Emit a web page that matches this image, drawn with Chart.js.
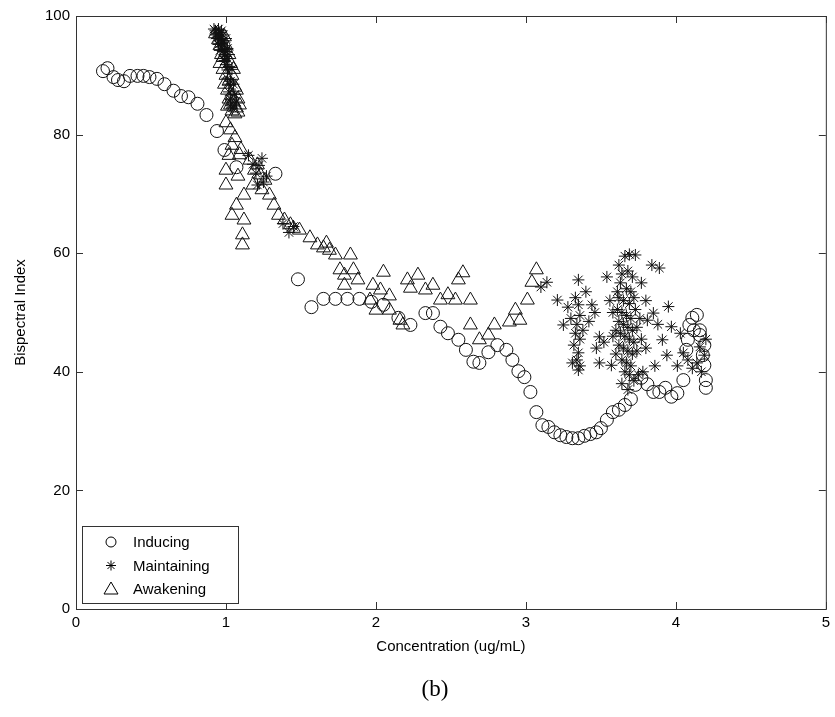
<!DOCTYPE html>
<html>
<head>
<meta charset="utf-8">
<script src="https://cdn.jsdelivr.net/npm/chart.js@4/dist/chart.umd.min.js"></script>
<style>
    body { margin: 0; background: #fff; }
    #wrap { position: relative; width: 835px; height: 717px; }
    #caption { position: absolute; left: 0; width: 870px; top: 676px; text-align: center;
               font-family: "Liberation Serif", "DejaVu Serif", serif; font-size: 23px; color: #000; }
</style>
</head>
<body>
<div id="wrap">
    <canvas id="bisChart" width="835" height="717"></canvas>
    <div id="caption">(b)</div>
</div>
<script>
// Concentration (ug/mL) vs bispectral index, one list of [x, y] per phase
const inducing = [
    [0.18,90.7],[0.21,91.2],[0.25,89.7],[0.28,89.2],[0.32,89.0],[0.36,89.9],[0.41,89.9],[0.45,89.9],
    [0.49,89.7],[0.54,89.4],[0.59,88.5],[0.65,87.4],[0.70,86.5],[0.75,86.3],[0.81,85.2],[0.87,83.3],
    [0.94,80.6],[0.99,77.4],[1.07,74.5],[1.33,73.4],[1.48,55.6],[1.57,50.9],[1.65,52.3],[1.73,52.3],
    [1.81,52.3],[1.89,52.3],[1.97,51.8],[2.05,51.3],[2.15,49.1],[2.23,47.9],[2.33,49.9],[2.38,49.9],
    [2.43,47.6],[2.48,46.5],[2.55,45.4],[2.60,43.7],[2.65,41.7],[2.69,41.5],[2.75,43.3],[2.81,44.5],
    [2.87,43.7],[2.91,42.0],[2.95,40.1],[2.99,39.1],[3.03,36.6],[3.07,33.2],[3.11,31.0],[3.15,30.7],
    [3.19,29.8],[3.23,29.3],[3.27,29.0],[3.31,28.8],[3.35,28.8],[3.39,29.2],[3.43,29.5],[3.47,29.8],
    [3.50,30.5],[3.54,31.9],[3.58,33.2],[3.62,33.6],[3.66,34.4],[3.70,35.4],[3.73,37.8],[3.77,39.0],
    [3.81,37.9],[3.85,36.6],[3.89,36.6],[3.93,37.3],[3.97,35.8],[4.01,36.4],[4.05,38.6],[4.07,43.7],
    [4.09,47.9],[4.11,49.1],[4.14,49.6],[4.16,46.2],[4.18,42.8],[4.19,41.1],[4.20,38.6],[4.20,37.3],
    [4.19,44.5],[4.16,47.0],[4.12,47.0],[4.08,45.4]
];

const maintaining = [
    // start of maintenance, high index
    [0.93,97.5],[0.94,97.0],[0.95,96.5],[0.95,97.8],[0.96,96.0],[0.97,95.5],[0.96,97.2],[0.98,96.8],
    [0.97,94.8],[0.98,94.0],[0.99,93.5],[0.98,95.8],[1.00,96.2],[0.99,92.5],[1.00,91.8],[1.01,90.9],
    [1.01,89.5],[1.02,88.5],[1.02,87.2],[1.03,86.0],[1.03,85.0],[1.04,84.5],[1.00,93.2],[1.01,94.5],
    [0.97,97.5],[0.94,96.2],[1.02,91.5],[1.03,89.0],[0.92,97.8],[0.93,96.8],[0.95,95.2],[0.96,94.2],
    [0.99,95.0],[1.00,94.0],[1.01,92.8],[1.02,93.5],[1.04,91.0],[1.05,88.5],[1.06,86.8],[1.07,85.5],
    [1.15,76.5],[1.18,75.0],[1.20,73.5],[1.22,74.8],[1.25,72.0],[1.24,76.0],[1.27,73.0],[1.21,71.5],
    [1.38,65.0],[1.42,63.5],[1.45,64.5],
    // steady state
    [3.14,55.1],[3.35,55.5],[3.54,56.0],[3.21,52.1],[3.28,50.9],[3.35,51.3],[3.44,51.3],[3.25,47.9],
    [3.49,45.9],[3.49,41.5],[3.57,41.1],[3.35,40.3],[3.35,43.2],[3.47,44.0],[3.33,46.5],[3.34,48.0],
    [3.36,49.5],[3.32,44.5],[3.34,42.0],[3.36,41.0],[3.33,52.5],[3.30,49.0],[3.38,47.0],[3.40,53.5],
    [3.31,41.5],[3.36,45.5],[3.42,48.5],[3.46,50.0],[3.10,54.3],[3.52,45.0],
    [3.62,58.0],[3.66,59.5],[3.69,59.8],[3.73,59.7],[3.64,56.5],[3.68,57.0],[3.71,56.0],[3.63,55.0],
    [3.67,54.0],[3.70,53.5],[3.62,52.5],[3.65,52.0],[3.69,51.5],[3.72,52.5],[3.61,50.5],[3.64,50.0],
    [3.67,49.5],[3.70,49.0],[3.73,50.5],[3.62,48.5],[3.65,48.0],[3.68,47.5],[3.71,47.0],[3.63,46.5],
    [3.66,46.0],[3.69,45.5],[3.72,45.0],[3.62,44.5],[3.65,44.0],[3.68,43.5],[3.71,43.0],[3.64,42.0],
    [3.67,41.5],[3.70,41.0],[3.66,40.0],[3.69,39.5],[3.72,38.5],[3.75,39.5],[3.78,40.0],[3.64,38.0],
    [3.68,37.0],[3.60,47.0],[3.74,47.5],[3.76,49.0],[3.74,43.5],[3.61,53.5],[3.58,50.0],[3.77,55.0],
    [3.80,52.0],[3.84,58.0],[3.89,57.5],[3.81,48.7],[3.85,49.9],[3.95,51.0],[3.97,47.6],[3.91,45.4],
    [3.94,42.8],[4.01,41.0],[4.05,43.2],[4.11,40.6],[4.16,44.2],[4.19,42.8],[3.56,52.0],[3.58,46.0],
    [3.60,43.0],[3.77,45.5],[3.88,48.0],[4.03,46.5],[4.08,42.0],[4.14,41.5],[4.17,40.0],[4.20,45.5],
    [3.80,44.0],[3.86,41.0]
];

const awakening = [
    [0.93,97.0],[0.95,96.0],[0.96,95.0],[0.97,93.5],[0.96,92.0],[0.98,91.0],[1.00,90.0],[0.99,88.5],
    [1.01,87.5],[1.02,86.0],[1.03,85.0],[1.04,84.0],[1.00,82.0],[1.01,84.8],[0.98,93.0],[1.02,89.0],
    [1.04,86.5],[1.05,85.5],[1.07,84.5],[1.08,86.0],[1.06,88.0],[1.04,90.0],[1.03,92.0],[1.05,91.0],
    [1.07,87.5],[1.09,85.0],[1.02,93.5],[1.00,95.0],[0.99,96.5],[1.06,83.5],[1.08,83.8],
    [1.03,80.8],[1.04,78.2],[1.00,74.0],[1.09,76.6],[1.00,71.5],[1.04,66.4],[1.07,68.1],[1.06,79.5],
    [1.10,77.5],[1.02,76.5],[1.08,73.0],
    [1.12,69.8],[1.12,65.6],[1.11,63.1],[1.11,61.4],[1.16,75.7],[1.19,74.0],[1.23,73.2],[1.21,74.9],
    [1.26,72.3],[1.18,71.5],[1.24,70.7],[1.29,69.8],[1.32,68.1],[1.35,66.4],[1.39,65.6],[1.43,64.8],
    [1.45,64.2],[1.49,63.9],[1.56,62.6],[1.61,61.4],[1.67,61.7],[1.69,60.5],[1.73,59.7],[1.65,60.9],
    [1.83,59.7],[1.85,57.2],[1.79,56.3],[1.76,57.2],[1.79,54.6],[1.88,55.5],[1.98,54.6],[1.96,52.1],
    [2.00,50.4],[2.05,56.8],[2.03,53.8],[2.09,52.8],[2.21,55.5],[2.23,54.1],[2.28,56.3],[2.33,53.8],
    [2.43,52.1],[2.38,54.6],[2.48,53.0],[2.53,52.1],[2.58,56.7],[2.63,52.1],[2.55,55.5],[2.16,48.7],
    [2.18,47.9],[2.09,50.4],[2.63,47.9],[2.75,46.2],[2.69,45.4],[2.79,47.9],[2.89,48.4],[2.96,48.7],
    [2.93,50.4],[3.01,52.1],[3.07,57.2],[3.04,55.1]
];

const xTicks = [0, 1, 2, 3, 4, 5];
const yTicks = [0, 20, 40, 60, 80, 100];

const fontFamily = '"Liberation Sans", Arial, Helvetica, sans-serif';

function toPoints(list) {
    return list.map(function(p) { return {x: p[0], y: p[1]}; });
}

// box round the plot with inward tick marks on all four sides
const frameTicks = {
    id: 'frameTicks',
    afterDatasetsDraw(chart) {
        const ctx = chart.ctx;
        const a = chart.chartArea;
        const xs = chart.scales.x, ys = chart.scales.y;
        ctx.save();
        ctx.strokeStyle = '#333';
        ctx.lineWidth = 1;
        ctx.strokeRect(a.left + 0.5, a.top + 0.5, a.right - a.left, a.bottom - a.top);
        ctx.beginPath();
        xTicks.forEach(function(v) {
            let px = Math.round(xs.getPixelForValue(v)) + 0.5;
            ctx.moveTo(px, a.bottom); ctx.lineTo(px, a.bottom - 7);
            ctx.moveTo(px, a.top); ctx.lineTo(px, a.top + 7);
        });
        yTicks.forEach(function(v) {
            let py = Math.round(ys.getPixelForValue(v)) + 0.5;
            ctx.moveTo(a.left, py); ctx.lineTo(a.left + 7, py);
            ctx.moveTo(a.right, py); ctx.lineTo(a.right - 7, py);
        });
        ctx.stroke();
        ctx.restore();
    }
};

// legend box in the lower left corner of the plot
const boxLegend = {
    id: 'boxLegend',
    afterDraw(chart) {
        const ctx = chart.ctx;
        const a = chart.chartArea;
        const left = a.left + 6, top = a.bottom - 83, w = 156, h = 77;
        ctx.save();
        ctx.fillStyle = '#fff';
        ctx.fillRect(left, top, w, h);
        ctx.strokeStyle = '#333';
        ctx.lineWidth = 1;
        ctx.strokeRect(left + 0.5, top + 0.5, w, h);
        ctx.font = '15px ' + fontFamily;
        ctx.fillStyle = '#000';
        ctx.textBaseline = 'middle';
        chart.data.datasets.forEach(function(ds, i) {
            let cy = top + 16 + i * 23.5;
            let cx = left + 29;
            ctx.strokeStyle = '#000';
            ctx.lineWidth = 1;
            ctx.beginPath();
            if (ds.pointStyle === 'circle') {
                ctx.arc(cx, cy, 5, 0, Math.PI * 2);
            } else if (ds.pointStyle === 'star') {
                for (let k = 0; k < 4; k++) {
                    let ang = k * Math.PI / 4;
                    ctx.moveTo(cx - 5 * Math.cos(ang), cy - 5 * Math.sin(ang));
                    ctx.lineTo(cx + 5 * Math.cos(ang), cy + 5 * Math.sin(ang));
                }
            } else {
                ctx.moveTo(cx, cy - 7);
                ctx.lineTo(cx + 7, cy + 5);
                ctx.lineTo(cx - 7, cy + 5);
                ctx.closePath();
            }
            ctx.stroke();
            ctx.fillText(ds.label, left + 51, cy + 1);
        });
        ctx.restore();
    }
};

const chartConfig = {
    type: 'scatter',
    data: {
        datasets: [
            {
                label: 'Inducing',
                data: toPoints(inducing),
                pointStyle: 'circle',
                pointRadius: 6.5,
                borderColor: '#111',
                backgroundColor: 'rgba(0,0,0,0)',
                borderWidth: 1
            },
            {
                label: 'Maintaining',
                data: toPoints(maintaining),
                pointStyle: 'star',
                pointRadius: 6,
                borderColor: '#111',
                backgroundColor: 'rgba(0,0,0,0)',
                borderWidth: 1
            },
            {
                label: 'Awakening',
                data: toPoints(awakening),
                pointStyle: 'triangle',
                pointRadius: 8,
                borderColor: '#111',
                backgroundColor: 'rgba(0,0,0,0)',
                borderWidth: 1
            }
        ]
    },
    options: {
        responsive: false,
        animation: false,
        devicePixelRatio: 1,
        layout: {
            padding: {left: 0, top: 16, right: 9, bottom: 0}
        },
        plugins: {
            legend: {display: false},
            tooltip: {enabled: false}
        },
        scales: {
            x: {
                type: 'linear',
                min: 0,
                max: 5,
                afterBuildTicks: function(scale) {
                    scale.ticks = xTicks.map(function(v) { return {value: v}; });
                },
                afterFit: function(scale) { scale.height = 108; },
                grid: {display: false, drawTicks: false},
                border: {display: false},
                ticks: {
                    padding: 5,
                    color: '#000',
                    font: {family: fontFamily, size: 15}
                },
                title: {
                    display: true,
                    text: 'Concentration (ug/mL)',
                    color: '#000',
                    font: {family: fontFamily, size: 15},
                    padding: {top: 0, bottom: 61}
                }
            },
            y: {
                type: 'linear',
                min: 0,
                max: 100,
                afterBuildTicks: function(scale) {
                    scale.ticks = yTicks.map(function(v) { return {value: v}; });
                },
                afterFit: function(scale) { scale.width = 76; },
                grid: {display: false, drawTicks: false},
                border: {display: false},
                ticks: {
                    padding: 6,
                    color: '#000',
                    font: {family: fontFamily, size: 15}
                },
                title: {
                    display: true,
                    text: 'Bispectral Index',
                    color: '#000',
                    font: {family: fontFamily, size: 15},
                    padding: {top: 12, bottom: 0}
                }
            }
        }
    },
    plugins: [frameTicks, boxLegend]
};

new Chart(document.getElementById('bisChart'), chartConfig);
</script>
</body>
</html>
